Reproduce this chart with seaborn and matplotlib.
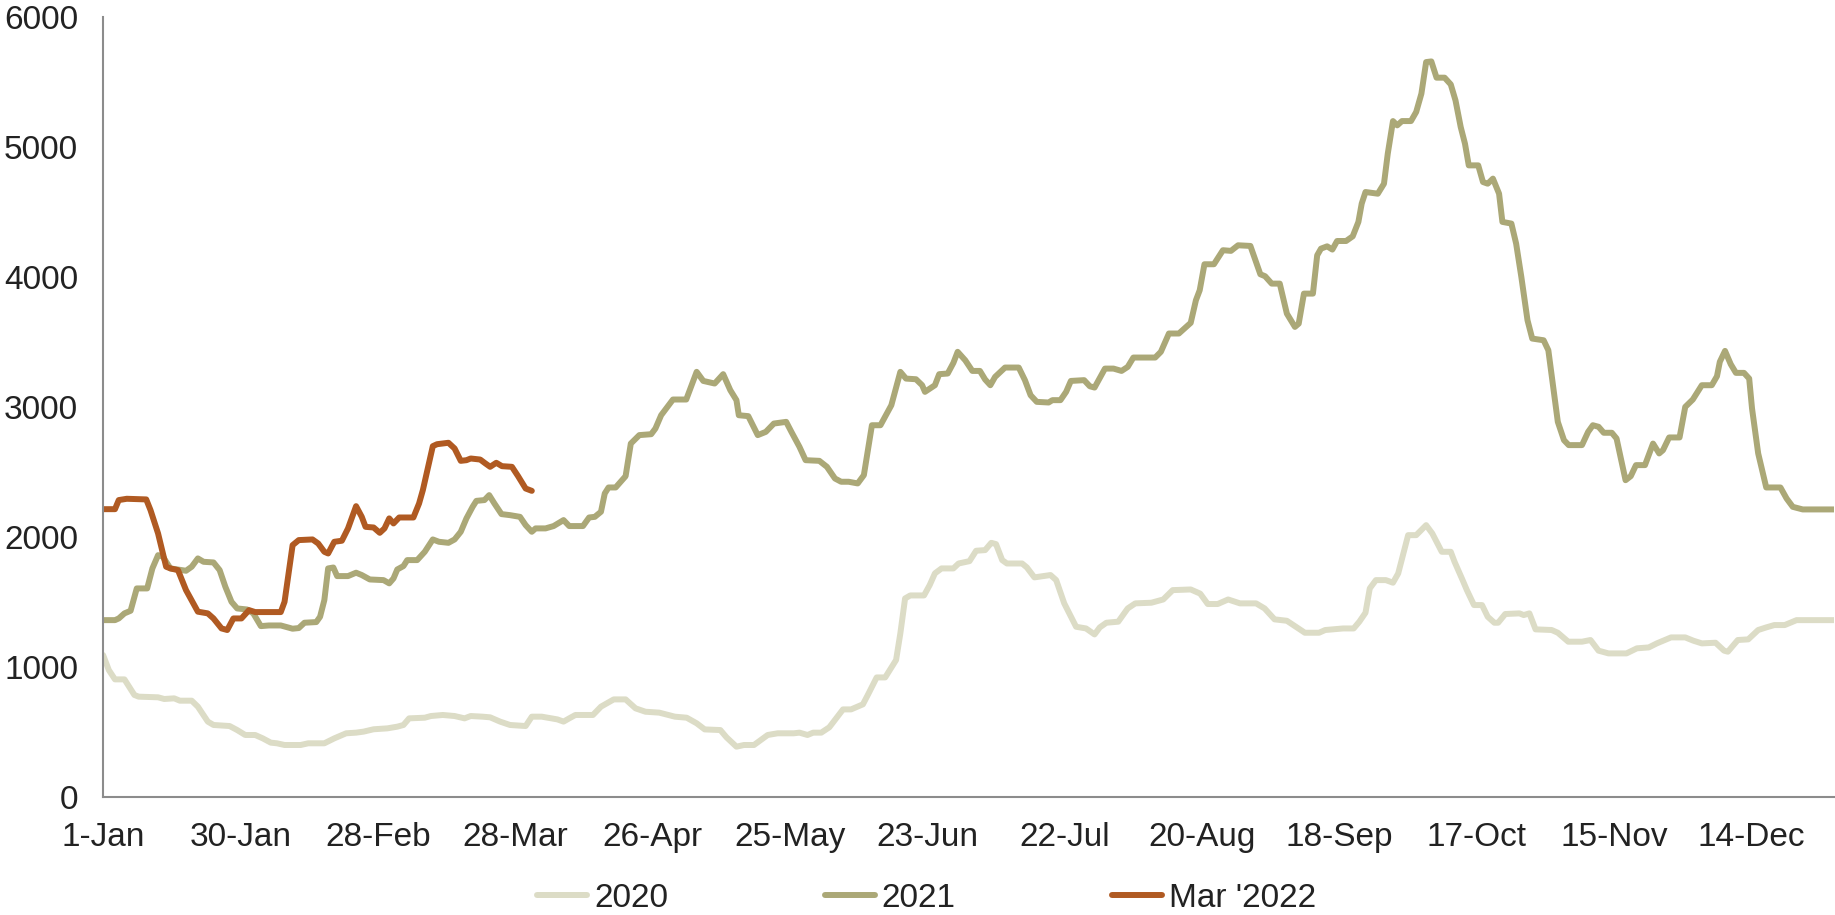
import matplotlib
matplotlib.use("Agg")
import matplotlib.pyplot as plt
import seaborn as sns
import pandas as pd
from matplotlib.lines import Line2D

# ---- data (day offset from 1-Jan, value) ----
tick_days = [0, 29, 58, 87, 116, 145, 174, 203, 232, 261, 290, 319, 348]
tick_labels = ["1-Jan", "30-Jan", "28-Feb", "28-Mar", "26-Apr", "25-May", "23-Jun",
               "22-Jul", "20-Aug", "18-Sep", "17-Oct", "15-Nov", "14-Dec"]

days_2020 = [0, 1.2, 2.5, 4.5, 6.6, 7.5, 11.6, 12.9, 15, 16.2, 18.7, 20, 22.1, 23.3, 26.7, 28.3,
             30, 32.1, 33.7, 35.4, 36.7, 38.3, 41.7, 43.3, 46.7, 48.8, 51.3, 53.4, 55, 57.1, 60,
             62.1, 63.4, 64.6, 67.9, 69.2, 71.7, 74.2, 76.3, 77.6, 80.1, 81.7, 83.8, 85.9, 89.2,
             90.5, 92.6, 94.7, 95.9, 97.2, 98.4, 99.7, 103.4, 105.1, 107.8, 110.3, 112.4, 114.5,
             117.4, 120.7, 123.2, 125.3, 127, 130.3, 131.6, 133.7, 135.3, 137.4, 140.3, 142.4,
             145.8, 147, 148.7, 149.9, 151.6, 153.3, 156.2, 157.9, 160.4, 161.6, 163.3, 165.1,
             167.4, 168.3, 169.3, 170.4, 173.3, 174.5, 175.6, 177, 179.5, 180.6, 182.9, 184.3,
             186.2, 187.5, 188.5, 189.8, 190.8, 194, 195, 196.6, 200, 201.2, 202.9, 205.4, 207.5,
             209.3, 210.4, 211.8, 214.3, 216.3, 217.9, 221.3, 223.8, 225.8, 229.6, 231.6, 233.2,
             235.3, 237.5, 240, 243.4, 245.2, 247.3, 249.9, 251.6, 253.7, 256.7, 258, 259.7,
             261.8, 264, 265.2, 266.5, 267.4, 268.7, 270.8, 272.3, 273.4, 275.5, 277.2, 279.3,
             280.6, 282.6, 284.5, 285.3, 287, 287.9, 289.4, 291.1, 292.3, 293.7, 294.5, 296, 299,
             299.9, 301.1, 302.4, 305.8, 307.1, 309.3, 312.2, 314, 315.7, 317.8, 321.6, 323.8,
             326.3, 328, 331, 334, 335.7, 337.5, 340.4, 342.2, 343, 345.1, 347.3, 349.4, 351.1,
             352.8, 355, 357.5, 365.5]
vals_2020 = [1092, 977, 905, 905, 785, 772, 767, 754, 759, 741, 741, 695, 580, 554, 546, 515,
             477, 477, 451, 418, 413, 400, 400, 413, 413, 451, 490, 495, 503, 521, 528,
             541, 554, 605, 610, 623, 631, 623, 605, 623, 618, 613, 580, 554, 546,
             618, 618, 605, 597, 580, 605, 631, 631, 695, 751, 751, 682, 656,
             649, 618, 610, 567, 520, 515, 459, 387, 400, 400, 477, 490,
             490, 495, 477, 495, 495, 536, 674, 674, 713, 797, 920, 920,
             1054, 1259, 1528, 1551, 1551, 1631, 1721, 1759, 1759, 1797, 1815, 1895,
             1900, 1956, 1946, 1823, 1797, 1797, 1767, 1690, 1708, 1669, 1490, 1310, 1297,
             1251, 1305, 1341, 1349, 1451, 1490, 1495, 1520, 1592, 1597, 1565, 1485,
             1485, 1520, 1490, 1490, 1451, 1367, 1356, 1315, 1264, 1264, 1285, 1290,
             1297, 1297, 1349, 1418, 1605, 1669, 1669, 1649, 1720, 2015, 2015, 2092,
             2028, 1887, 1887, 1810, 1669, 1592, 1477, 1477, 1387, 1341, 1341, 1408, 1413,
             1400, 1413, 1290, 1285, 1264, 1195, 1195, 1208, 1126, 1105, 1105, 1144,
             1151, 1182, 1228, 1228, 1203, 1182, 1187, 1126, 1118, 1208, 1213, 1285, 1305,
             1323, 1323, 1361, 1361]

days_2021 = [0, 2.5, 3.3, 4.5, 5.8, 7.1, 9.3, 10.4, 11.6, 12.6, 14.2, 17.5, 18.7, 20, 21.2, 23.3,
             24.6, 25.8, 27.1, 28.3, 30.4, 31.7, 33.3, 35, 37.5, 40, 41.3, 42.5, 45, 45.8, 46.7,
             47.5, 48.6, 49.4, 51.7, 53.4, 54.6, 56.3, 59.2, 60.4, 61.3, 62.1, 63.4, 64.2, 66.3,
             67.9, 69.6, 70.9, 72.9, 74.2, 75.5, 76.7, 78, 78.8, 80.5, 81.5, 82.6, 84.1, 85.9, 88,
             89.2, 90.5, 91.3, 93.4, 95.1, 97.2, 98.4, 101.3, 102.6, 103.8, 105.1, 105.9, 106.7,
             108.2, 110.3, 111.4, 113.2, 115.7, 116.6, 117.8, 120.3, 123.1, 125.3, 126.7, 129.1,
             130.9, 132.4, 133.7, 134.2, 136.2, 138.2, 139.9, 141.6, 144.2, 145.3, 147, 148.3,
             151.2, 152.8, 154.5, 155.8, 157.4, 159.3, 160.6, 162.3, 164.1, 166.4, 168.3, 169.5,
             171.6, 172.9, 173.5, 175.6, 176.5, 178.3, 179.5, 180.4, 182, 183.5, 185.1, 186.2,
             187.3, 188.3, 190.4, 193.3, 194.6, 195.8, 197.1, 199.6, 200.4, 202.1, 203.3, 204.3,
             207.1, 208.3, 209.3, 211.5, 213.3, 215, 216.3, 217.5, 222.1, 223.3, 225, 227.1,
             229.6, 230.7, 231.5, 232.5, 234.5, 236.4, 238.1, 239.6, 242.2, 244.3, 245.3, 246.7,
             248.4, 249.9, 251.6, 252.4, 253.5, 255.4, 256.3, 257.1, 258.4, 259.5, 260.5, 262.4,
             263.8, 265, 265.7, 266.5, 269.1, 270.4, 271.2, 272.3, 273.2, 274.2, 276.1, 277.2,
             278.3, 279.3, 280.4, 281.5, 283.2, 284.5, 285.5, 286.6, 287.5, 288.3, 290.3, 291.3,
             292.3, 293.4, 294.7, 295.4, 297.3, 298.3, 299.4, 300.7, 301.7, 304.1, 305.1, 306.3,
             307.1, 308.4, 309.4, 312.2, 313.5, 314.5, 315.7, 316.8, 318.5, 319.5, 321.4, 322.5,
             323.6, 325.5, 327.2, 328.5, 329.3, 330.6, 332.8, 334, 335.6, 337.5, 339.6, 340.7,
             341.3, 342.4, 343.6, 344.7, 346.4, 347.5, 348.1, 349.4, 351.1, 354.1, 355.4, 356.7,
             358.8, 365.5]
vals_2021 = [1361, 1361, 1374, 1413, 1433, 1605, 1605, 1759, 1861, 1850, 1759, 1741, 1772, 1836,
             1810, 1805, 1746, 1618, 1502, 1451, 1443, 1413, 1315, 1320, 1320, 1295, 1300, 1341,
             1346, 1387, 1515, 1759, 1766, 1700, 1700, 1726, 1708, 1674, 1669, 1644, 1682, 1751,
             1777, 1823, 1823, 1887, 1982, 1964, 1956, 1982, 2041, 2144, 2233, 2279, 2285, 2323,
             2259, 2177, 2169, 2156, 2092, 2041, 2067, 2067, 2085, 2131, 2085, 2085, 2151, 2156,
             2195, 2336, 2382, 2382, 2469, 2720, 2785, 2792, 2836, 2938, 3059, 3059, 3272, 3202,
             3182, 3254, 3131, 3054, 2938, 2931, 2785, 2810, 2874, 2887, 2810, 2695, 2592, 2587,
             2541, 2451, 2426, 2426, 2413, 2477, 2861, 2861, 3015, 3272, 3220, 3215, 3169, 3118,
             3169, 3254, 3259, 3341, 3426, 3361, 3279, 3279, 3213, 3169, 3233, 3305, 3305, 3208,
             3092, 3041, 3036, 3054, 3054, 3118, 3202, 3208, 3161, 3151, 3297, 3297, 3279, 3310,
             3382, 3382, 3426, 3567, 3567, 3649, 3823, 3900, 4100, 4100, 4208, 4203, 4246, 4241,
             4023, 4008, 3951, 3951, 3720, 3618, 3643, 3874, 3874, 4169, 4220, 4238, 4213, 4279,
             4279, 4315, 4426, 4567, 4656, 4643, 4720, 4951, 5202, 5169, 5202, 5202, 5272, 5413,
             5656, 5661, 5536, 5536, 5484, 5361, 5156, 5028, 4861, 4861, 4733, 4720, 4759, 4643,
             4426, 4413, 4259, 4002, 3669, 3528, 3515, 3438, 3105, 2887, 2746, 2708, 2708, 2810,
             2861, 2849, 2803, 2803, 2759, 2438, 2469, 2554, 2554, 2720, 2644, 2669, 2767, 2767,
             3002, 3059, 3169, 3169, 3238, 3349, 3433, 3331, 3264, 3264, 3220, 2990, 2644, 2382,
             2382, 2297, 2233, 2213, 2213]

days_2022 = [0, 2.5, 3.3, 5, 9.1, 10, 11.6, 13.3, 14.2, 15.8, 17.5, 20, 22.1, 23.3, 25, 26.2,
             27.5, 29.2, 30.8, 32.1, 37.5, 38.3, 40, 41.3, 44.2, 45.4, 46.7, 47.5, 48.8, 50.4,
             51.7, 53.4, 54.6, 55.4, 57.1, 58.4, 59.4, 60.4, 61.3, 62.5, 65.5, 66.7, 67.5, 69.6,
             70.5, 72.9, 74.2, 75.5, 76.7, 77.6, 79.6, 80.7, 81.7, 83, 84.2, 86.3, 87.6, 89.2, 90.5]
vals_2022 = [2215, 2215, 2285, 2295, 2290, 2208, 2028, 1772, 1759, 1746, 1592, 1426, 1413, 1374,
             1297, 1285, 1374, 1374, 1438, 1423, 1423, 1502, 1938, 1977, 1982, 1951, 1887, 1874,
             1964, 1972, 2067, 2238, 2156, 2079, 2074, 2033, 2067, 2144, 2105, 2151, 2151, 2259,
             2362, 2700, 2715, 2726, 2682, 2587, 2592, 2605, 2597, 2567, 2541, 2572, 2546, 2541,
             2469, 2374, 2356]

series_names = ["2020", "2021", "Mar '2022"]
colors = ["#DCDCC6", "#ABA877", "#B05A22"]

df = pd.concat([
    pd.DataFrame({"day": days_2020, "value": vals_2020, "series": series_names[0]}),
    pd.DataFrame({"day": days_2021, "value": vals_2021, "series": series_names[1]}),
    pd.DataFrame({"day": days_2022, "value": vals_2022, "series": series_names[2]}),
], ignore_index=True)

sns.set_theme(style="white")
plt.rcParams["font.family"] = ["Liberation Sans", "DejaVu Sans"]

LW = 4.3
FS = 24

fig = plt.figure(figsize=(18.35, 9.15), dpi=100)
ax = fig.add_axes([0.0562, 0.129, 0.9435, 0.852])

sns.lineplot(data=df, x="day", y="value", hue="series", hue_order=series_names,
             palette=dict(zip(series_names, colors)), linewidth=LW, ax=ax,
             sort=False, estimator=None, legend=False)

ax.set_xlim(0, 365.5)
ax.set_ylim(0, 6000)
ax.set_xticks(tick_days)
ax.set_xticklabels(tick_labels)
ax.set_yticks([0, 1000, 2000, 3000, 4000, 5000, 6000])
ax.set_xlabel("")
ax.set_ylabel("")

for s in ["top", "right"]:
    ax.spines[s].set_visible(False)
for s in ["left", "bottom"]:
    ax.spines[s].set_color("#8C8C8C")
    ax.spines[s].set_linewidth(1.5)

ax.tick_params(axis="both", which="major", direction="out", length=7, width=1.5,
               color="#8C8C8C", labelsize=FS, labelcolor="#222222")
ax.tick_params(axis="y", pad=11)
ax.tick_params(axis="x", pad=11)
ax.grid(False)

handles = [Line2D([0], [0], color=c, lw=LW) for c in colors]
fig.legend(handles, series_names, loc="center", bbox_to_anchor=(0.505, 0.018), ncol=3,
           frameon=False, fontsize=FS, handlelength=1.5, handletextpad=0.2,
           columnspacing=4.7, labelcolor="#222222")

fig.savefig("out.png", dpi=100)
